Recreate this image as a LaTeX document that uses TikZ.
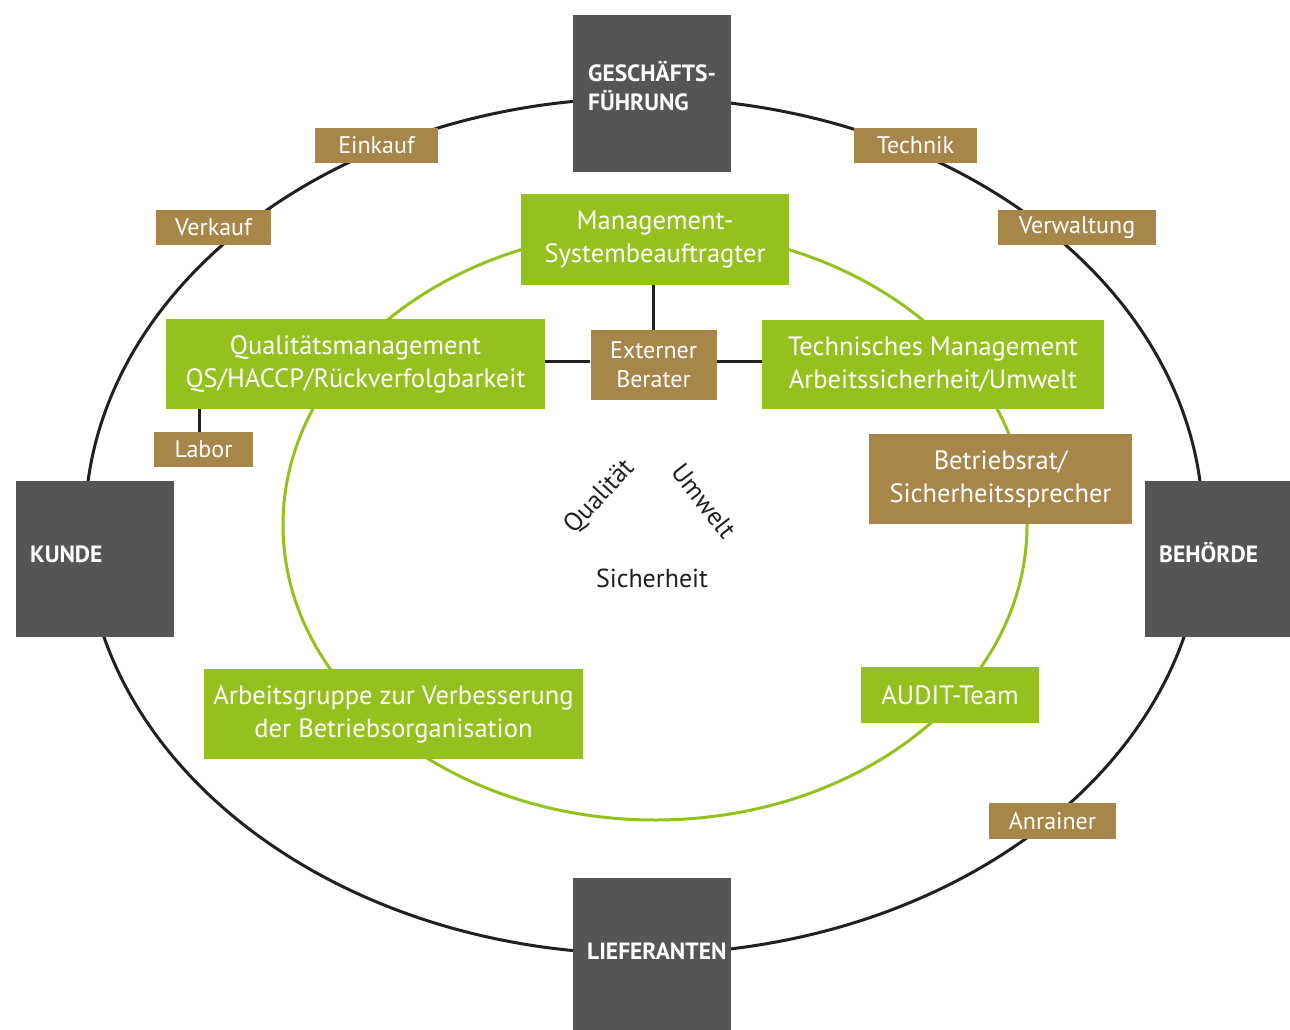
\documentclass[tikz,border=0pt]{standalone}
\usepackage{fontspec}
\setmainfont{PT Sans}
\definecolor{dgray}{HTML}{555555}
\definecolor{lgreen}{HTML}{95C11F}
\definecolor{bbrown}{HTML}{A8864A}
\definecolor{ink}{HTML}{231F20}
\begin{document}
\begin{tikzpicture}[x=1pt,y=-1pt,
  gbox/.style={fill=lgreen, text=white, inner sep=0pt, align=center, font=\fontsize{26.5}{33}\selectfont},
  bbox/.style={fill=bbrown, text=white, inner sep=0pt, align=center, font=\fontsize{24}{29}\selectfont},
  bbig/.style={fill=bbrown, text=white, inner sep=0pt, align=center, font=\fontsize{26.5}{33}\selectfont},
  dbox/.style={fill=dgray, inner sep=0pt},
  dtext/.style={text=white, inner sep=0pt, align=left, font=\fontsize{23.5}{29}\bfseries\selectfont},
  ctext/.style={text=ink, inner sep=0pt, font=\fontsize{26}{30}\selectfont},
  conn/.style={line width=3pt, draw=ink}]
\useasboundingbox (0,0) rectangle (1290,1030);
% ellipses
\draw[line width=3pt, draw=ink] (644,526) ellipse [x radius=559pt, y radius=428pt];
\draw[line width=3pt, draw=lgreen] (655,525) ellipse [x radius=372pt, y radius=295pt];
% dark boxes
\node[dbox, minimum width=158pt, minimum height=157pt] (gf) at (652,93.5) {};
\node[dtext, anchor=base west] (gft) at (588,111) {GESCHÄFTS-\\FÜHRUNG};
\node[dbox, minimum width=158pt, minimum height=156pt] (ku) at (95,559) {};
\node[dtext, anchor=base west] (kut) at (30,562) {KUNDE};
\node[dbox, minimum width=158pt, minimum height=156pt] (be) at (1224,559) {};
\node[dtext, anchor=base west] (bet) at (1159,562) {BEHÖRDE};
\node[dbox, minimum width=158pt, minimum height=160pt] (li) at (652,958) {};
\node[dtext, anchor=base west] (lit) at (587,959) {LIEFERANTEN};
% green boxes
\node[gbox, minimum width=268pt, minimum height=91pt] (msb) at (655,239.5) {Management-\\Systembeauftragter};
\node[gbox, minimum width=379pt, minimum height=90pt] (qm) at (355.5,364) {Qualitätsmanagement\\QS/HACCP/Rückverfolgbarkeit};
\node[gbox, minimum width=342pt, minimum height=89pt] (tm) at (933,364.5) {Technisches Management\\Arbeitssicherheit/Umwelt};
\node[gbox, minimum width=379pt, minimum height=90pt] (ag) at (393.5,714) {Arbeitsgruppe zur Verbesserung\\der Betriebsorganisation};
\node[gbox, minimum width=178pt, minimum height=56pt] (au) at (950,695) {AUDIT-Team};
% brown boxes
\node[bbox, minimum width=123pt, minimum height=35pt] (ek) at (376.5,145.5) {Einkauf};
\node[bbox, minimum width=123pt, minimum height=35pt] (te) at (915.5,145.5) {Technik};
\node[bbox, minimum width=115pt, minimum height=35pt] (vk) at (213.5,227.5) {Verkauf};
\node[bbox, minimum width=158pt, minimum height=35pt] (vw) at (1077,227.5) {Verwaltung};
\node[bbox, minimum width=126pt, minimum height=70pt] (ext) at (653.5,365) {Externer\\Berater};
\node[bbox, minimum width=99pt, minimum height=35pt] (lab) at (203.5,449.5) {Labor};
\node[bbig, minimum width=263pt, minimum height=90pt] (br) at (1000.5,479) {Betriebsrat/\\Sicherheitssprecher};
\node[bbox, minimum width=127pt, minimum height=36pt] (an) at (1052.5,821) {Anrainer};
% connectors
\draw[conn] (ext.north) -- (ext.north |- msb.south);
\draw[conn] ([yshift=4pt]ext.west) -- ([yshift=4pt]ext.west -| qm.east);
\draw[conn] ([yshift=4pt]ext.east) -- ([yshift=4pt]ext.east -| tm.west);
\draw[conn] ([xshift=-4.5pt]lab.north) -- ([xshift=-4.5pt]lab.north |- qm.south);
% centre texts
\node[ctext, rotate=47] (qt) at (600,497) {Qualität};
\node[ctext, rotate=-52] (uw) at (704,501) {Umwelt};
\node[ctext] (si) at (652,578) {Sicherheit};
\end{tikzpicture}
\end{document}
